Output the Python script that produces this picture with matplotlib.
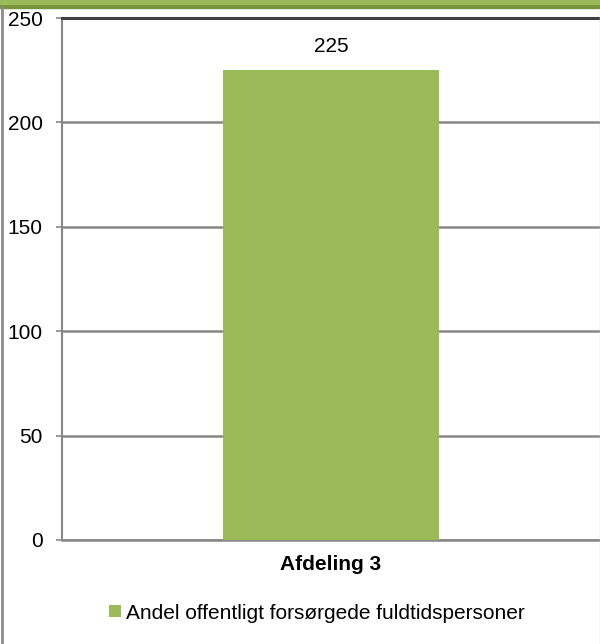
import matplotlib.pyplot as plt
from matplotlib.patches import Rectangle

plt.rcParams['font.family'] = ['Liberation Sans', 'DejaVu Sans']

categories = ['Afdeling 3']
values = [225]
series_name = 'Andel offentligt forsørgede fuldtidspersoner'
yticks = [0, 50, 100, 150, 200, 250]

bar_color = '#9BBB59'
fs = 15

fig = plt.figure(figsize=(6, 6.44), dpi=100)
ax = fig.add_axes([0.1033, 0.1615, 0.8967, 0.8105])

bars = ax.bar(categories, values, width=0.403, color=bar_color, zorder=3,
              label=series_name)
for b, v in zip(bars, values):
    ax.text(b.get_x() + b.get_width() / 2, v + 11.5, str(v), ha='center',
            va='center', fontsize=fs)

ax.set_xlim(-0.5, 0.5)
ax.set_ylim(0, 250)
ax.set_yticks(yticks)
ax.grid(axis='y', color='#878787', linewidth=1.8, zorder=0)
ax.tick_params(axis='y', length=4, width=1.2, color='#878787',
               labelsize=fs, pad=10)
ax.tick_params(axis='x', length=0, labelsize=fs, pad=11)
for lab in ax.get_xticklabels():
    lab.set_fontweight('bold')

ax.spines['right'].set_visible(False)
ax.spines['top'].set_color('#404040')
ax.spines['top'].set_linewidth(2.2)
ax.spines['left'].set_color('#878787')
ax.spines['left'].set_linewidth(1.5)
ax.spines['bottom'].set_color('#878787')
ax.spines['bottom'].set_linewidth(1.8)

leg = fig.legend(loc='center', bbox_to_anchor=(0.528, 0.048), frameon=False,
                 fontsize=fs, handlelength=0.55, handleheight=0.55,
                 handletextpad=0.25)

# green header band and outer border
fig.patches.append(Rectangle((0, 1 - 8 / 644), 1, 8 / 644,
                             transform=fig.transFigure, color='#77933C',
                             zorder=0))
fig.patches.append(Rectangle((0, 1 - 4 / 644), 1, 4 / 644,
                             transform=fig.transFigure, color='#9BBB59',
                             zorder=0))
fig.add_artist(plt.Line2D([1.5 / 600, 1.5 / 600], [0, 1 - 8 / 644],
                          transform=fig.transFigure, color='#8C8C8C',
                          linewidth=2))
fig.add_artist(plt.Line2D([599.5 / 600, 599.5 / 600], [0, 1 - 8 / 644],
                          transform=fig.transFigure, color='#D0D0D0',
                          linewidth=1))

fig.savefig('out.png', dpi=100)
